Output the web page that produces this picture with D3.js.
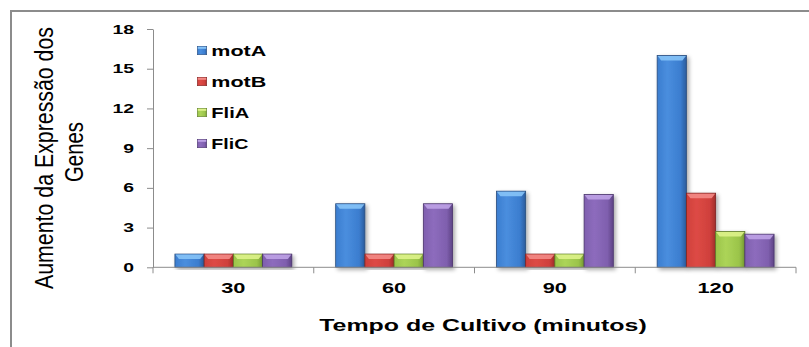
<!DOCTYPE html>
<html>
<head>
<meta charset="utf-8">
<script src="https://cdn.jsdelivr.net/npm/d3@7"></script>
<style>
  html, body { margin: 0; padding: 0; background: #fff; }
  svg { display: block; font-family: Arial, "Liberation Sans", sans-serif; }
</style>
</head>
<body>
<svg id="chart" width="809" height="347"></svg>
<script>
// Gene expression increase over culture time
const categories = ["30", "60", "90", "120"];
const seriesNames = ["motA", "motB", "FliA", "FliC"];
const motA = [1, 4.8, 5.75, 16];
const motB = [1, 1, 1, 5.6];
const fliA = [1, 1, 1, 2.7];
const fliC = [1, 4.8, 5.5, 2.5];
const yTicks = [0, 3, 6, 9, 12, 15, 18];
const yTitleLines = ["Aumento da Expressão dos", "Genes"];
const xTitle = "Tempo de Cultivo (minutos)";

const seriesValues = [motA, motB, fliA, fliC];

// face / edge / highlight colours per series
const palette = [
  { face: "#3b7dcf", light: "#4a8ede", edge: "#2b5c9c", top: "#86c3f7", stroke: "#2a4e7e" },
  { face: "#cf403c", light: "#dd4a45", edge: "#a12d2a", top: "#f38a86", stroke: "#7e2422" },
  { face: "#9bc44a", light: "#acd458", edge: "#789c33", top: "#ddf28a", stroke: "#5f7c2a" },
  { face: "#7f5fae", light: "#8d6cbd", edge: "#5d4385", top: "#bea2e6", stroke: "#4a356b" }
];

const svg = d3.select("#chart");
const W = 809, H = 347;
const plot = { left: 153, right: 796, top: 29, bottom: 267.3 };

const defs = svg.append("defs");
palette.forEach((c, i) => {
  const g = defs.append("linearGradient").attr("id", "bar" + i)
    .attr("x1", 0).attr("x2", 1).attr("y1", 0).attr("y2", 0);
  g.append("stop").attr("offset", "0%").attr("stop-color", c.face);
  g.append("stop").attr("offset", "35%").attr("stop-color", c.light);
  g.append("stop").attr("offset", "80%").attr("stop-color", c.face);
  g.append("stop").attr("offset", "100%").attr("stop-color", c.edge);
});
const shadow = defs.append("filter").attr("id", "shadow")
  .attr("x", "-30%").attr("y", "-10%").attr("width", "170%").attr("height", "130%");
shadow.append("feGaussianBlur").attr("in", "SourceAlpha").attr("stdDeviation", 2);
shadow.append("feOffset").attr("dx", 2).attr("dy", 2).attr("result", "b");
shadow.append("feComponentTransfer").append("feFuncA").attr("type", "linear").attr("slope", 0.35);
const merge = shadow.append("feMerge");
merge.append("feMergeNode");
merge.append("feMergeNode").attr("in", "SourceGraphic");

// stretch text horizontally by a factor, keeping font height
function stretch(sel, f) {
  sel.each(function () {
    const w = this.getComputedTextLength();
    d3.select(this).attr("textLength", w * f).attr("lengthAdjust", "spacingAndGlyphs");
  });
}

// frame lines (top and left)
svg.append("path")
  .attr("d", `M11,${H} L11,11 L${W},11`)
  .attr("fill", "none").attr("stroke", "#8c8c8c").attr("stroke-width", 2);

const x0 = d3.scaleBand().domain(categories).range([plot.left, plot.right]).padding(0);
const x1 = d3.scaleBand().domain(seriesNames).range([0, x0.bandwidth()])
  .paddingInner(0).paddingOuter(0.75);
const y = d3.scaleLinear().domain([0, 18]).range([plot.bottom, plot.top]);

// bars
const barData = [];
categories.forEach((cat, ci) => {
  seriesNames.forEach((s, si) => {
    barData.push({ cat, s, si, v: seriesValues[si][ci] });
  });
});

const bars = svg.append("g").selectAll("g.bar").data(barData).join("g")
  .attr("class", "bar")
  .attr("filter", "url(#shadow)");

bars.each(function (d) {
  const g = d3.select(this);
  const bx = x0(d.cat) + x1(d.s);
  const bw = x1.bandwidth();
  const by = y(d.v);
  const bh = y(0) - y(d.v);
  const c = palette[d.si];
  g.append("rect")
    .attr("x", bx).attr("y", by).attr("width", bw).attr("height", bh)
    .attr("fill", `url(#bar${d.si})`)
    .attr("stroke", c.stroke).attr("stroke-width", 0.8);
  const bev = Math.min(5, bh / 2);
  g.append("path")
    .attr("d", `M${bx + 0.5},${by + 0.5} L${bx + bw - 0.5},${by + 0.5} L${bx + bw - 4},${by + bev} L${bx + 4},${by + bev} Z`)
    .attr("fill", c.top).attr("opacity", 0.9);
});

// y axis
const yAxis = svg.append("g")
  .attr("transform", `translate(${plot.left},0)`)
  .call(d3.axisLeft(y).tickValues(yTicks).tickSize(6).tickPadding(13).tickSizeOuter(0));
yAxis.select(".domain").attr("stroke", "#8c8c8c");
yAxis.selectAll(".tick line").attr("stroke", "#8c8c8c");
yAxis.selectAll(".tick text")
  .attr("fill", "#000").attr("font-size", 12.5).attr("font-weight", "bold");
stretch(yAxis.selectAll(".tick text"), 1.55);

// x axis: category boundaries as ticks
const xAxisG = svg.append("g").attr("transform", `translate(0,${plot.bottom})`);
xAxisG.append("line")
  .attr("x1", plot.left).attr("x2", plot.right)
  .attr("stroke", "#8c8c8c");
const bounds = categories.map(c => x0(c)).concat([x0(categories[categories.length - 1]) + x0.bandwidth()]);
xAxisG.selectAll("line.tk").data(bounds).join("line").attr("class", "tk")
  .attr("x1", d => d).attr("x2", d => d).attr("y1", 0).attr("y2", 6)
  .attr("stroke", "#8c8c8c");
const xLabels = xAxisG.selectAll("text.cat").data(categories).join("text").attr("class", "cat")
  .attr("x", d => x0(d) + x0.bandwidth() / 2)
  .attr("y", 26)
  .attr("text-anchor", "middle")
  .attr("font-size", 15).attr("font-weight", "bold").attr("fill", "#000")
  .text(d => d);
stretch(xLabels, 1.45);

// x title
const xt = svg.append("text")
  .attr("x", 483).attr("y", 331)
  .attr("text-anchor", "middle")
  .attr("font-size", 16.3).attr("font-weight", "bold").attr("fill", "#000")
  .text(xTitle);
stretch(xt, 1.53);

// y title (two rotated lines, glyphs widened across the line)
const yTitle = svg.append("g");
yTitle.selectAll("text").data(yTitleLines).join("text")
  .attr("transform", (d, i) => `translate(${i === 0 ? 53 : 83},${i === 0 ? 158 : 152}) scale(1.2,1) rotate(-90)`)
  .attr("text-anchor", "middle")
  .attr("font-size", 21).attr("fill", "#000")
  .text(d => d)
  .each(function (d, i) {
    d3.select(this).attr("textLength", i === 0 ? 262 : 60).attr("lengthAdjust", "spacingAndGlyphs");
  });

// legend
const legendWidths = [55, 55, 38, 37];
const legend = svg.append("g");
const rows = legend.selectAll("g").data(seriesNames).join("g")
  .attr("transform", (d, i) => `translate(197.3,${50.5 + i * 31})`);
rows.append("rect")
  .attr("x", 0).attr("y", -4.2).attr("width", 9.4).attr("height", 8.4)
  .attr("fill", (d, i) => `url(#bar${i})`)
  .attr("stroke", (d, i) => palette[i].stroke).attr("stroke-width", 0.6);
rows.append("rect")
  .attr("x", 0.5).attr("y", -3.7).attr("width", 8.4).attr("height", 2)
  .attr("fill", (d, i) => palette[i].top);
rows.append("text")
  .attr("font-size", 14.5).attr("font-weight", "bold").attr("fill", "#000")
  .text(d => d)
  .each(function (d, i) {
    const w = this.getComputedTextLength();
    d3.select(this).attr("transform", `translate(14,5.3) scale(${legendWidths[i] / w},1)`);
  });
</script>
</body>
</html>
